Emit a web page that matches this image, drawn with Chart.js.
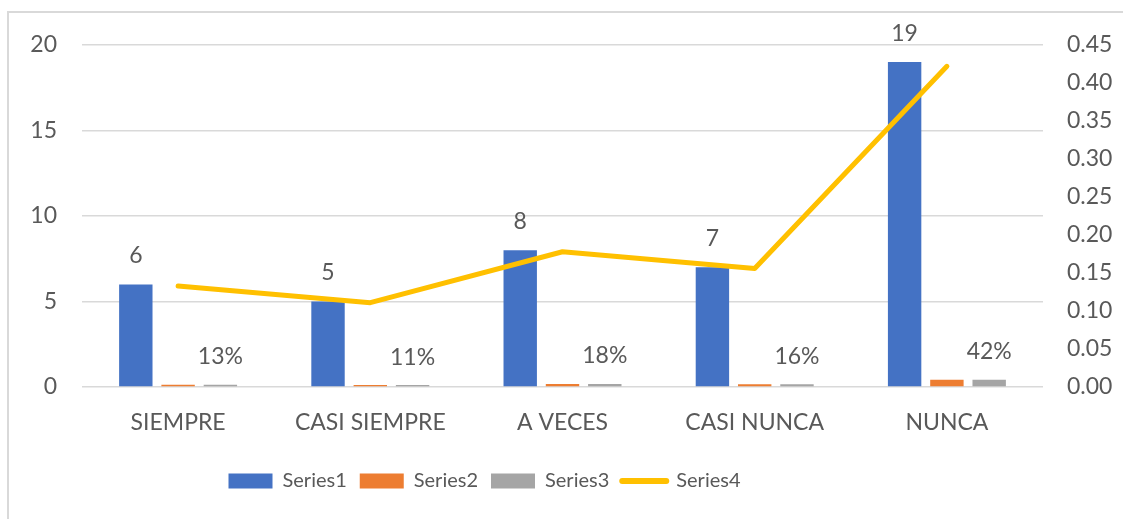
<!DOCTYPE html>
<html>
<head>
<meta charset="utf-8">
<script src="https://cdn.jsdelivr.net/npm/chart.js@4.4.1/dist/chart.umd.min.js"></script>
<style>
  html, body { margin: 0; padding: 0; background: #fff; overflow: hidden; }
  #frame {
    position: absolute; left: 7px; top: 11px; width: 1200px; height: 600px;
    border-left: 2px solid #d9d9d9; border-top: 2px solid #d9d9d9;
  }
  #wrap { position: absolute; left: 0; top: 0; width: 1123px; height: 519px; }
</style>
</head>
<body>
<div id="frame"></div>
<div id="wrap"><canvas id="chart" width="1123" height="519"></canvas></div>
<script>
const categories = ["SIEMPRE", "CASI SIEMPRE", "A VECES", "CASI NUNCA", "NUNCA"]
const series1 = [6, 5, 8, 7, 19]
const series2 = [0.133, 0.111, 0.178, 0.156, 0.422]
const series3 = [0.133, 0.111, 0.178, 0.156, 0.422]
const series4 = [0.133, 0.111, 0.178, 0.156, 0.422]
const leftTicks = [0, 5, 10, 15, 20]
const rightTicks = [0, 0.05, 0.1, 0.15, 0.2, 0.25, 0.3, 0.35, 0.4, 0.45]

const textColor = "#595959"
const axisFont = { family: "Lato, 'Open Sans', sans-serif", size: 23 }

// value labels above Series1 and Series3 bars
const barLabels = {
  id: "barLabels",
  afterDatasetsDraw(chart) {
    const ctx = chart.ctx
    ctx.save()
    ctx.font = "23px Lato, 'Open Sans', sans-serif"
    ctx.fillStyle = textColor
    ctx.textAlign = "center"
    ctx.textBaseline = "middle"
    chart.getDatasetMeta(0).data.forEach((bar, i) => {
      ctx.fillText(String(series1[i]), bar.x, bar.y - 29)
    })
    chart.getDatasetMeta(2).data.forEach((bar, i) => {
      ctx.fillText(Math.round(series3[i] * 100) + "%", bar.x, bar.y - 28)
    })
    ctx.restore()
  }
}

// the legend sits a bit left of the canvas centre
const legendShift = {
  id: "legendShift",
  afterLayout(chart) {
    if (!chart.legend) return
    chart.legend.left -= 77
    chart.legend.right -= 77
  }
}

const ctx = document.getElementById("chart")
new Chart(ctx, {
  type: "bar",
  data: {
    labels: categories,
    datasets: [
      { label: "Series1", data: series1, backgroundColor: "#4472C4", yAxisID: "y", order: 1 },
      { label: "Series2", data: series2, backgroundColor: "#ED7D31", yAxisID: "y", order: 1 },
      { label: "Series3", data: series3, backgroundColor: "#A5A5A5", yAxisID: "y", order: 1 },
      {
        type: "line",
        label: "Series4",
        data: series4,
        yAxisID: "y1",
        borderColor: "#FFC000",
        backgroundColor: "#FFC000",
        borderWidth: 5,
        borderCapStyle: "round",
        borderJoinStyle: "round",
        pointRadius: 0,
        tension: 0,
        order: 0
      }
    ]
  },
  options: {
    responsive: false,
    animation: false,
    events: [],
    datasets: { bar: { categoryPercentage: 0.66, barPercentage: 0.79 } },
    layout: { padding: { top: 45, left: 0, right: 0, bottom: 18 } },
    plugins: {
      tooltip: { enabled: false },
      legend: {
        position: "bottom",
        labels: {
          color: textColor,
          font: { family: "Lato, sans-serif", size: 20 },
          usePointStyle: true,
          pointStyleWidth: 44,
          boxHeight: 15,
          padding: 13,
          generateLabels(chart) {
            return chart.data.datasets.map((ds, i) => ({
              text: ds.label,
              datasetIndex: i,
              fillStyle: ds.backgroundColor,
              strokeStyle: ds.type === "line" ? ds.borderColor : ds.backgroundColor,
              lineWidth: ds.type === "line" ? 6 : 0,
              lineCap: "round",
              pointStyle: ds.type === "line" ? "line" : "rect",
              fontColor: textColor,
              hidden: false
            }))
          }
        }
      }
    },
    scales: {
      x: {
        grid: { display: false, drawTicks: false },
        border: { display: false },
        ticks: { color: textColor, font: axisFont, padding: 22, maxRotation: 0 },
        afterFit(scale) { scale.height = 71 }
      },
      y: {
        position: "left",
        min: 0,
        max: 20,
        grid: { color: "#d9d9d9", lineWidth: 1.5, drawTicks: false },
        border: { display: false },
        afterBuildTicks(scale) { scale.ticks = leftTicks.map((v) => ({ value: v })) },
        ticks: { color: textColor, font: axisFont, padding: 25 },
        afterFit(scale) { scale.width = 82 }
      },
      y1: {
        position: "right",
        min: 0,
        max: 0.45,
        grid: { display: false, drawTicks: false },
        border: { display: false },
        afterBuildTicks(scale) { scale.ticks = rightTicks.map((v) => ({ value: v })) },
        ticks: {
          color: textColor,
          font: axisFont,
          padding: 24,
          callback: (v) => Number(v).toFixed(2)
        },
        afterFit(scale) { scale.width = 80 }
      }
    }
  },
  plugins: [barLabels, legendShift]
})
</script>
</body>
</html>
